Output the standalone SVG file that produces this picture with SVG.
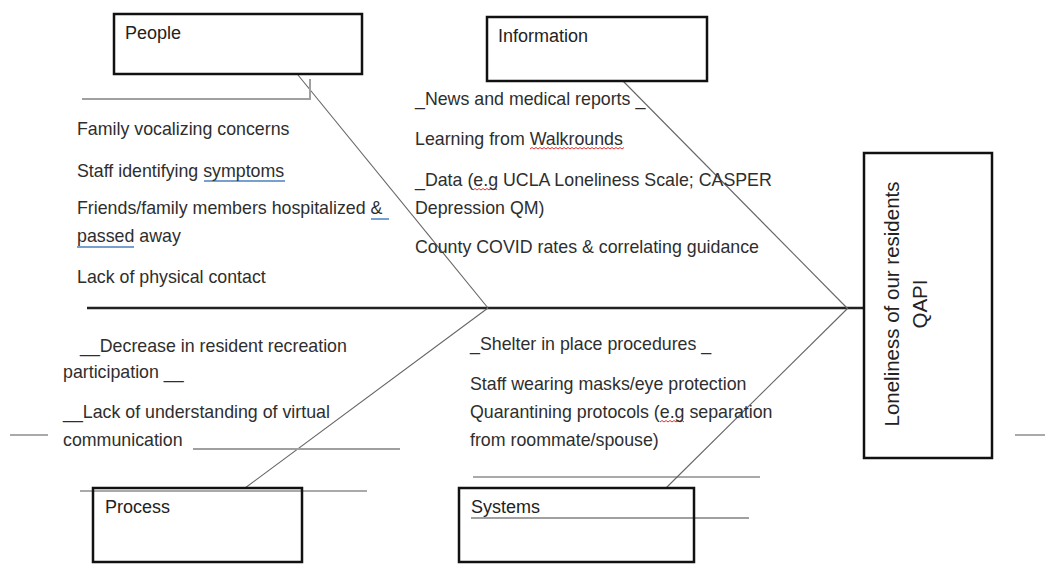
<svg xmlns="http://www.w3.org/2000/svg" width="1045" height="572" viewBox="0 0 1045 572">
<style>
.box{fill:none;stroke:#111;stroke-width:2.5}
.t{font-family:"Liberation Sans",Arial,sans-serif;font-size:17.8px;fill:#2e2e2e}
.lbl{font-family:"Liberation Sans",Arial,sans-serif;font-size:18px;fill:#222}
.big{font-family:"Liberation Sans",Arial,sans-serif;font-size:20.5px;fill:#222}
.bone{stroke:#666;stroke-width:1.1;fill:none}
.ul{stroke:#a0a0a0;stroke-width:2;fill:none}
.thin{stroke:#555;stroke-width:1;fill:none}
.spell{stroke:#d33;stroke-width:1;fill:none}
.gram{stroke:#4a7fc1;stroke-width:1.5;fill:none}
</style>
<rect width="1045" height="572" fill="#fff"/>
<g id="connectors">
<line x1="87" y1="308" x2="864" y2="308" stroke="#222" stroke-width="2.5"/>
<line class="bone" x1="298" y1="75" x2="488" y2="308"/>
<line class="bone" x1="623" y1="81" x2="847" y2="308"/>
<line class="bone" x1="245" y1="488" x2="488" y2="308"/>
<line class="bone" x1="666" y1="488" x2="848" y2="308"/>
<polyline class="ul" points="82,99 310,99 310,79"/>
<line class="ul" x1="193" y1="449" x2="400" y2="449"/>
<line class="ul" x1="471" y1="518" x2="749" y2="518"/>
<line class="thin" x1="80" y1="491" x2="367" y2="491"/>
<line class="thin" x1="473" y1="477" x2="760" y2="477"/>
<line class="thin" x1="10" y1="435" x2="48" y2="435"/>
<line class="thin" x1="1015" y1="435" x2="1045" y2="435"/>
</g>
<g id="spellcheck">
<line class="gram" x1="204" y1="181" x2="285" y2="181"/>
<line class="gram" x1="371" y1="219" x2="389" y2="219"/>
<line class="gram" x1="77" y1="247" x2="134" y2="247"/>
<path class="spell" d="M530,149 l2,-1.5 l2,1.5 l2,-1.5 l2,1.5 l2,-1.5 l2,1.5 l2,-1.5 l2,1.5 l2,-1.5 l2,1.5 l2,-1.5 l2,1.5 l2,-1.5 l2,1.5 l2,-1.5 l2,1.5 l2,-1.5 l2,1.5 l2,-1.5 l2,1.5 l2,-1.5 l2,1.5 l2,-1.5 l2,1.5 l2,-1.5 l2,1.5 l2,-1.5 l2,1.5 l2,-1.5 l2,1.5 l2,-1.5 l2,1.5 l2,-1.5 l2,1.5 l2,-1.5 l2,1.5 l2,-1.5 l2,1.5 l2,-1.5 l2,1.5 l2,-1.5 l2,1.5 l2,-1.5 l2,1.5 l2,-1.5 l2,1.5 l2,-1.5"/>
<path class="spell" d="M473,190 l2,-1.5 l2,1.5 l2,-1.5 l2,1.5 l2,-1.5 l2,1.5 l2,-1.5 l2,1.5 l2,-1.5 l2,1.5 l2,-1.5 l2,1.5"/>
<path class="spell" d="M660,422 l2,-1.5 l2,1.5 l2,-1.5 l2,1.5 l2,-1.5 l2,1.5 l2,-1.5 l2,1.5 l2,-1.5 l2,1.5 l2,-1.5 l2,1.5"/>
</g>
<g id="people">
<rect class="box" x="114" y="14" width="248" height="60"/>
<text class="lbl" x="125" y="39">People</text>
<text class="t" x="77" y="135">Family vocalizing concerns</text>
<text class="t" x="77" y="177">Staff identifying symptoms</text>
<text class="t" x="77" y="214">Friends/family members hospitalized &amp;</text>
<text class="t" x="77" y="242">passed away</text>
<text class="t" x="77" y="283">Lack of physical contact</text>
</g>
<g id="information">
<rect class="box" x="487" y="17" width="220" height="64"/>
<text class="lbl" x="498" y="42">Information</text>
<text class="t" x="415" y="105">_News and medical reports _</text>
<text class="t" x="415" y="145">Learning from Walkrounds</text>
<text class="t" x="415" y="186">_Data (e.g UCLA Loneliness Scale; CASPER</text>
<text class="t" x="415" y="214">Depression QM)</text>
<text class="t" x="415" y="253">County COVID rates &amp; correlating guidance</text>
</g>
<g id="process">
<rect class="box" x="93" y="488" width="209" height="74"/>
<text class="lbl" x="105" y="513">Process</text>
<text class="t" x="80" y="352">__Decrease in resident recreation</text>
<text class="t" x="63" y="378">participation __</text>
<text class="t" x="63" y="418">__Lack of understanding of virtual</text>
<text class="t" x="63" y="446">communication</text>
</g>
<g id="systems">
<rect class="box" x="459" y="488" width="235" height="74"/>
<text class="lbl" x="471" y="513">Systems</text>
<text class="t" x="470" y="350">_Shelter in place procedures _</text>
<text class="t" x="470" y="390">Staff wearing masks/eye protection</text>
<text class="t" x="470" y="418">Quarantining protocols (e.g separation</text>
<text class="t" x="470" y="446">from roommate/spouse)</text>
</g>
<g id="effect">
<rect class="box" x="864" y="153" width="128" height="305"/>
<text class="big" text-anchor="middle" transform="translate(899,304) rotate(-90)">Loneliness of our residents</text>
<text class="big" text-anchor="middle" transform="translate(927,304) rotate(-90)">QAPI</text>
</g>
</svg>
